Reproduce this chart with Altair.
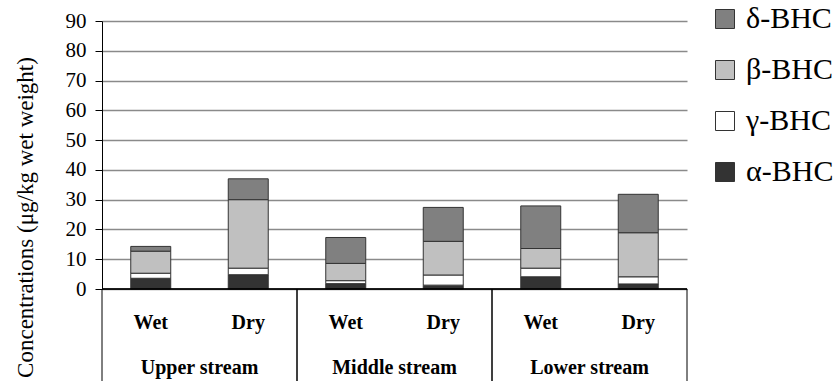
import altair as alt
import pandas as pd

# Sampling sites and seasons
groups = ["Upper stream", "Middle stream", "Lower stream"]
seasons = ["Wet", "Dry"]

# BHC isomer concentrations (µg/kg wet weight), ordered
# Upper-Wet, Upper-Dry, Middle-Wet, Middle-Dry, Lower-Wet, Lower-Dry
alpha_bhc = [3.6, 4.8, 1.8, 1.3, 4.1, 1.7]
gamma_bhc = [1.7, 2.2, 1.0, 3.4, 2.9, 2.4]
beta_bhc = [7.4, 23.0, 5.8, 11.3, 6.6, 14.8]
delta_bhc = [1.6, 7.0, 8.7, 11.4, 14.3, 12.9]

# Stack order (bottom to top) and legend order (top to bottom)
stack_names = ["α-BHC", "γ-BHC", "β-BHC", "δ-BHC"]
legend_names = ["δ-BHC", "β-BHC", "γ-BHC", "α-BHC"]
legend_colors = ["#808080", "#c0c0c0", "#ffffff", "#333333"]

y_ticks = [0, 10, 20, 30, 40, 50, 60, 70, 80, 90]

SERIF = "Liberation Serif"
W, H = 585, 268

series = dict(zip(stack_names, [alpha_bhc, gamma_bhc, beta_bhc, delta_bhc]))

rows = []
slots = []
season_rows = []
for gi, g in enumerate(groups):
    for si, s in enumerate(seasons):
        idx = gi * 2 + si
        slot = f"{g} · {s}"
        slots.append(slot)
        season_rows.append({"slot": slot, "season": s})
        for rank, name in enumerate(stack_names):
            rows.append({"slot": slot, "group": g, "season": s,
                         "compound": name, "value": series[name][idx],
                         "rank": rank})

df = pd.DataFrame(rows)
season_df = pd.DataFrame(season_rows)
group_df = pd.DataFrame({"group": groups})

slot_scale = alt.Scale(domain=slots, paddingInner=0.59, paddingOuter=0.295)
group_scale = alt.Scale(domain=groups, paddingInner=0, paddingOuter=0)

bars = alt.Chart(df).mark_bar(stroke="#333333", strokeWidth=1).encode(
    x=alt.X("slot:N", scale=slot_scale, axis=None),
    y=alt.Y(
        "value:Q",
        stack="zero",
        scale=alt.Scale(domain=[0, 90], nice=False),
        axis=alt.Axis(
            values=y_ticks,
            grid=True,
            gridColor="#8a8a8a",
            gridWidth=1.5,
            domainColor="#000000",
            tickColor="#000000",
            tickSize=7,
            labelFont=SERIF,
            labelFontSize=21,
            labelColor="#000000",
            labelPadding=9,
            labelOverlap=False,
            title="Concentrations (μg/kg wet weight)",
            titleFont=SERIF,
            titleFontSize=23,
            titleFontWeight="normal",
            titleColor="#000000",
            titleAngle=270,
            titleAlign="center",
            titleBaseline="middle",
            titleX=-77,
            titleY=196,
        ),
    ),
    color=alt.Color(
        "compound:N",
        scale=alt.Scale(domain=legend_names, range=legend_colors),
        legend=alt.Legend(
            title=None,
            orient="none",
            legendX=608,
            legendY=-17,
            symbolType="square",
            symbolSize=361,
            symbolStrokeColor="#333333",
            symbolStrokeWidth=1,
            symbolOpacity=1,
            labelFont=SERIF,
            labelFontSize=30,
            labelColor="#000000",
            labelOffset=6,
            rowPadding=21,
        ),
    ),
    order=alt.Order("rank:Q"),
)

# Black baseline along the bottom of the plot
baseline = alt.Chart(group_df).mark_rule(color="#000000", strokeWidth=1).encode(
    x=alt.value(0),
    x2=alt.value(W),
    y=alt.value(H),
)

# Season labels under each bar
season_text = alt.Chart(season_df).mark_text(
    font=SERIF, fontSize=20, fontWeight="bold", color="#000000"
).encode(
    x=alt.X("slot:N", scale=slot_scale, axis=None),
    y=alt.value(H + 34),
    text="season:N",
)

# Site labels and separators in the category area
group_text = alt.Chart(group_df).mark_text(
    font=SERIF, fontSize=20, fontWeight="bold", color="#000000"
).encode(
    x=alt.X("group:N", scale=group_scale, axis=None),
    y=alt.value(H + 79),
    text="group:N",
)

left_edges = alt.Chart(group_df).mark_rule(color="#000000", strokeWidth=1).encode(
    x=alt.X("group:N", scale=group_scale, axis=None, bandPosition=0),
    y=alt.value(H),
    y2=alt.value(H + 92),
)

right_edges = alt.Chart(group_df).mark_rule(color="#000000", strokeWidth=1).encode(
    x=alt.X("group:N", scale=group_scale, axis=None, bandPosition=1),
    y=alt.value(H),
    y2=alt.value(H + 92),
)

chart = (
    alt.layer(bars, baseline, season_text, group_text, left_edges, right_edges)
    .resolve_scale(x="independent")
    .properties(
        width=W,
        height=H,
        background="#ffffff",
        autosize=alt.AutoSizeParams(type="none"),
        padding={"left": 102, "top": 21, "right": 153, "bottom": 92},
    )
    .configure_view(stroke=None)
)

chart.save("out.html", embed_options={"renderer": "svg", "actions": False})
